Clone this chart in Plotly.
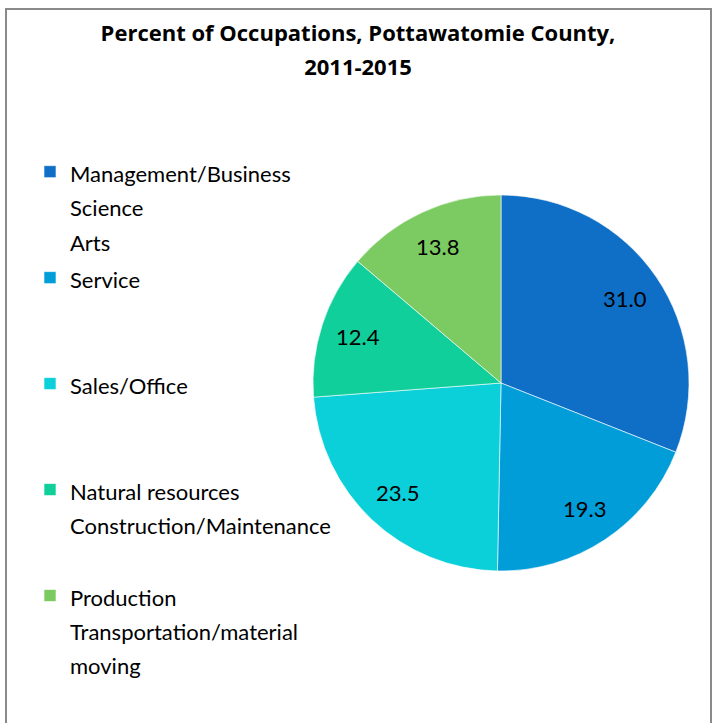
import math
import plotly.graph_objects as go

categories = [
    "Management/Business<br>Science<br>Arts",
    "Service<br><br>",
    "Sales/Office<br><br>",
    "Natural resources<br>Construction/Maintenance<br>",
    "Production<br>Transportation/material<br>moving",
]
values = [31.0, 19.3, 23.5, 12.4, 13.8]
colors = ["#0F6FC6", "#009DD9", "#0BD0D9", "#10CF9B", "#7CCA62"]

W, H = 715, 723
# pie box in pixels (left, right, top, bottom)
px0, px1, py0, py1 = 313, 689, 195, 571

fig = go.Figure(go.Pie(
    labels=["<span style='font-size:22px'>" + c + "</span>" for c in categories],
    values=values,
    textinfo="none",
    marker=dict(colors=colors, line=dict(color="white", width=0.6)),
    sort=False,
    direction="clockwise",
    rotation=0,
    domain=dict(x=[px0 / W, px1 / W], y=[1 - py1 / H, 1 - py0 / H]),
    hovertemplate="%{value:.1f}<extra></extra>",
))

# data labels at 0.8 of the radius, on each slice's mid angle (like Excel best fit)
cx, cy = (px0 + px1) / 2, (py0 + py1) / 2
R = (px1 - px0) / 2
total = sum(values)
start = 0.0
annotations = []
for v in values:
    mid = (start + v / 2) / total * 2 * math.pi
    start += v
    x = cx + 0.8 * R * math.sin(mid)
    y = cy - 0.8 * R * math.cos(mid)
    annotations.append(dict(
        x=x / W, y=1 - y / H, xref="paper", yref="paper",
        xanchor="center", yanchor="middle",
        text=f"{v:.1f}", showarrow=False,
        font=dict(family="Lato", size=22, color="black"),
    ))

fig.update_layout(
    width=W, height=H,
    margin=dict(l=0, r=0, t=0, b=0),
    paper_bgcolor="white",
    font=dict(family="Lato", color="black"),
    title=dict(
        text="<span style='font-size:22px'><b>Percent of Occupations, Pottawatomie County,<br>2011-2015</b></span>",
        font=dict(family="Open Sans", size=26, color="black"),
        x=358 / W, xanchor="center",
        y=1 - 41 / H, yanchor="top",
    ),
    legend=dict(
        x=30 / W, xanchor="left",
        y=1 - 148 / H, yanchor="top",
        font=dict(family="Lato", size=26.4, color="black"),
        valign="top",
        traceorder="normal",
        bgcolor="rgba(0,0,0,0)",
    ),
    annotations=annotations,
    shapes=[dict(
        type="rect", xref="paper", yref="paper",
        x0=6 / W, x1=711 / W, y0=-0.05, y1=1 - 9 / H,
        line=dict(color="#8a8a8a", width=2),
    )],
)

fig.write_html("out.html", config={"displayModeBar": False},
               post_script="document.body.style.margin='0';")
